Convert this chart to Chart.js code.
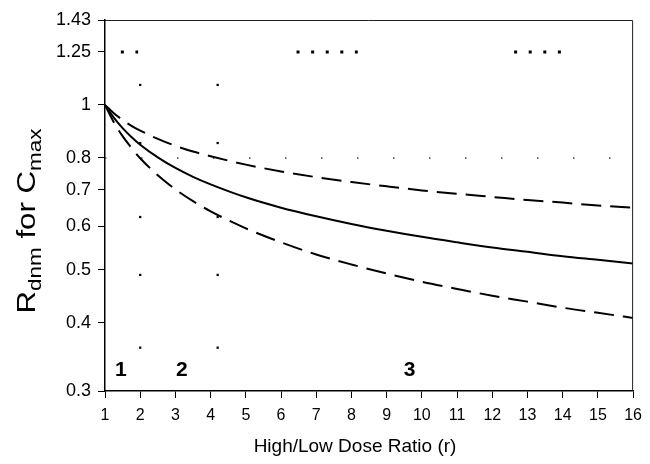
<!DOCTYPE html>
<html>
<head>
<meta charset="utf-8">
<script src="https://cdn.jsdelivr.net/npm/chart.js@4.4.1/dist/chart.umd.min.js"></script>
<style>
  html, body { margin: 0; padding: 0; background: #fff; }
  #wrap { width: 650px; height: 464px; }
</style>
</head>
<body>
<div id="wrap"><canvas id="doseChart" width="650" height="464"></canvas></div>
<script>
// dose ratios
const ratios = [1, 1.25, 1.5, 1.75, 2, 2.5, 3, 3.5, 4, 5, 6, 7, 8, 9, 10, 11, 12, 13, 14, 15, 16];
// solid curve
const rMid = [1, 0.948, 0.907, 0.874, 0.846, 0.802, 0.767, 0.739, 0.716, 0.678, 0.649, 0.626, 0.606, 0.589, 0.574, 0.561, 0.549, 0.539, 0.529, 0.521, 0.513];
// upper dashed curve
const rUpper = [1, 0.966, 0.939, 0.916, 0.898, 0.867, 0.842, 0.822, 0.806, 0.778, 0.756, 0.738, 0.723, 0.710, 0.698, 0.688, 0.679, 0.670, 0.663, 0.655, 0.649];
// lower dashed curve
const rLower = [1, 0.930, 0.877, 0.835, 0.799, 0.744, 0.701, 0.667, 0.639, 0.595, 0.561, 0.533, 0.511, 0.492, 0.475, 0.461, 0.448, 0.437, 0.426, 0.417, 0.408];

const yTicks = [0.3, 0.4, 0.5, 0.6, 0.7, 0.8, 1, 1.25, 1.43];

// reference lines (what survived of the dotted lines)
const upperLimit = 1.25;
const upperLimitX = [1.45, 1.94, null, 6.44, 8.18, null, 12.62, 13.96];
const lowerLimit = 0.8;
const boundaryX = [2, 4.2];
const boundaryDots = [1.088, 0.852, 0.624, 0.489, 0.36];

const regionLabels = ["1", "2", "3"];
const regionX = [1.45, 3.18, 9.65];
const regionY = 0.328;

const xTitle = "High/Low Dose Ratio (r)";
const FONT = "Arial, 'Liberation Sans', sans-serif";
const toXY = (xs, ys) => xs.map((x, i) => ({ x: x, y: ys[i] }));

const datasets = [
  { data: toXY(ratios, rUpper), showLine: true, borderColor: "#000", borderWidth: 2, borderDash: [20, 9], pointRadius: 0, cubicInterpolationMode: "monotone" },
  { data: toXY(ratios, rMid), showLine: true, borderColor: "#000", borderWidth: 2, pointRadius: 0, cubicInterpolationMode: "monotone" },
  { data: toXY(ratios, rLower), showLine: true, borderColor: "#000", borderWidth: 2, borderDash: [20, 9], pointRadius: 0, cubicInterpolationMode: "monotone" },
  {
    data: upperLimitX.map(x => x === null ? { x: NaN, y: null } : { x: x, y: upperLimit }),
    showLine: true, borderColor: "#000", borderWidth: 3, borderDash: [3, 11.6], borderCapStyle: "butt",
    pointRadius: 0, spanGaps: false
  },
  { data: [{ x: 1, y: lowerLimit }, { x: 16, y: lowerLimit }], showLine: true, borderColor: "#444", borderWidth: 1.5, borderDash: [1.5, 34.5], pointRadius: 0 }
];
boundaryX.forEach(bx => {
  datasets.push({
    data: boundaryDots.map(v => ({ x: bx, y: v })),
    showLine: false, pointStyle: "rect", pointRadius: 1.6,
    backgroundColor: "#000", borderColor: "#000", borderWidth: 0
  });
});

const decorations = {
  id: "decorations",
  afterDraw(chart) {
    const { ctx, chartArea: a, scales } = chart;
    ctx.save();
    // frame top / right
    ctx.strokeStyle = "#222";
    ctx.lineWidth = 1;
    ctx.beginPath();
    ctx.moveTo(a.left, a.top + 0.5);
    ctx.lineTo(a.right - 0.5, a.top + 0.5);
    ctx.lineTo(a.right - 0.5, a.bottom);
    ctx.stroke();

    // region numbers
    ctx.fillStyle = "#000";
    ctx.font = "bold 21px " + FONT;
    ctx.textAlign = "center";
    ctx.textBaseline = "middle";
    regionLabels.forEach((t, i) => {
      ctx.fillText(t, scales.x.getPixelForValue(regionX[i]), scales.y.getPixelForValue(regionY));
    });

    // x axis title (sits left of the plot centre in the original)
    ctx.font = "19px " + FONT;
    ctx.fillText(xTitle, 355, 447);

    // y axis title with subscripts
    const parts = [
      { t: "R", f: "25px", dy: 0 },
      { t: "dnm", f: "18px", dy: 6 },
      { t: " for C", f: "25px", dy: 0 },
      { t: "max", f: "18px", dy: 6 }
    ];
    let total = 0;
    parts.forEach(p => {
      ctx.font = p.f + " " + FONT;
      p.w = ctx.measureText(p.t).width;
      total += p.w;
    });
    ctx.translate(35, 221);
    ctx.rotate(-Math.PI / 2);
    ctx.scale(1.25, 1);
    ctx.textAlign = "left";
    ctx.textBaseline = "alphabetic";
    let x = -total / 2;
    parts.forEach(p => {
      ctx.font = p.f + " " + FONT;
      ctx.fillText(p.t, x, p.dy);
      x += p.w;
    });
    ctx.restore();
  }
};

new Chart(document.getElementById("doseChart").getContext("2d"), {
  type: "scatter",
  data: { datasets: datasets },
  options: {
    responsive: false,
    animation: false,
    layout: { padding: { left: 0, top: 20, right: 16, bottom: 0 } },
    plugins: { legend: { display: false }, tooltip: { enabled: false } },
    elements: { line: { fill: false } },
    scales: {
      x: {
        type: "linear",
        min: 1,
        max: 16,
        afterFit: s => { s.height = 73; },
        ticks: { stepSize: 1, color: "#000", padding: 8, font: { family: FONT, size: 16 } },
        grid: { drawOnChartArea: false, drawTicks: true, tickLength: 7, color: "#000" },
        border: { display: true, color: "#000", width: 1.5 }
      },
      y: {
        type: "logarithmic",
        min: 0.3,
        max: 1.43,
        afterFit: s => { s.width = 105; },
        afterBuildTicks: s => { s.ticks = yTicks.map(v => ({ value: v })); },
        ticks: { color: "#000", padding: 7, callback: v => String(v), font: { family: FONT, size: 18 } },
        grid: { drawOnChartArea: false, drawTicks: true, tickLength: 7, color: "#000" },
        border: { display: true, color: "#000", width: 1.5 }
      }
    }
  },
  plugins: [decorations]
});
</script>
</body>
</html>
